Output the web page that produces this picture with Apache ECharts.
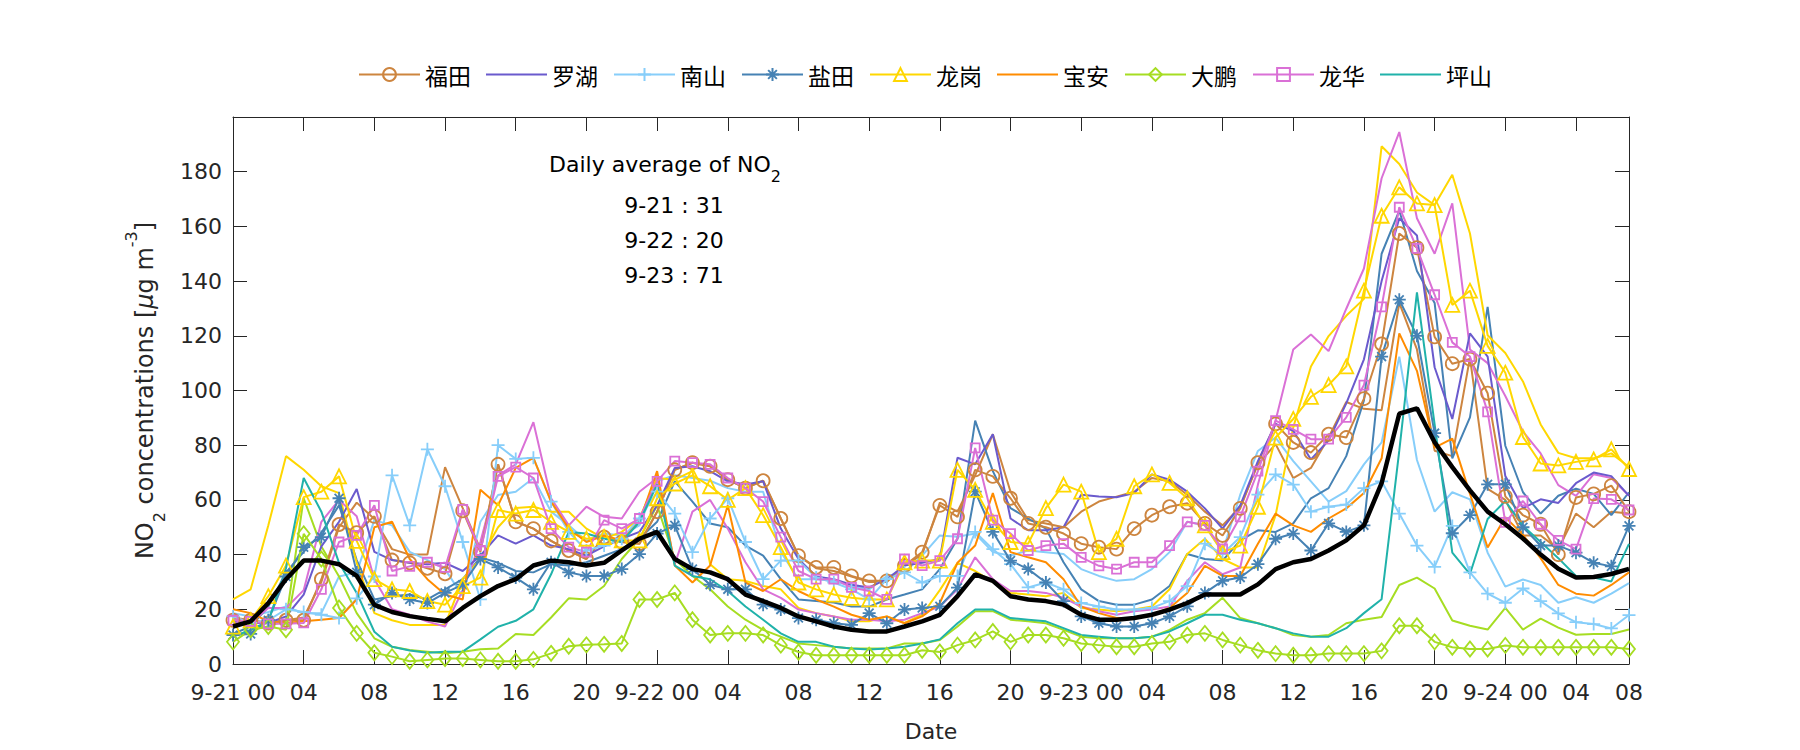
<!DOCTYPE html>
<html><head><meta charset="utf-8">
<script src="https://cdn.jsdelivr.net/npm/echarts@6/dist/echarts.min.js"></script>
<style>html,body{margin:0;padding:0;background:#fff}#c{width:1800px;height:750px}</style>
</head><body><div id="c"></div>
<script>
// ---- axis ticks ----
const tickHours = [0,4,8,12,16,20,24,28,32,36,40,44,48,52,56,60,64,68,72,76,79];
const tickLabels = ['9-21 00','04','08','12','16','20','9-22 00','04','08','12','16','20','9-23 00','04','08','12','16','20','9-24 00','04','08'];
const stationNames = ['福田','罗湖','南山','盐田','龙岗','宝安','大鹏','龙华','坪山'];
const avgDays = ['9-21','9-22','9-23'];
const avgValues = [31,20,71];

// ---- hourly NO2 (9-21 00 .. 9-24 07) ----
const futian = [16,16,15,16,16,31,51,48,54,38,37,35,33,56,41,73,52,
 49.5,45,41.5,38.4,46.4,44.6,44,55.7,71,73.6,72.3,67.4,64.3,67,53.2,39.6,
 35.3,35.3,32.2,30.4,30.4,36,40.9,58,53.8,71,68.6,60.6,51.4,50,47.7,44,
 42.7,42,49.5,54.4,57.5,58.8,51.4,47,56.9,73.6,87.8,81,77.3,84,82.8,97,
 117,157.4,152.2,119.6,109.8,111.5,99,61.3,54.4,51.1,40,60.9,62.2,65.2,55.7];
const futian2 = [17,16,15,16,17,30,50,59,53,42,40,40,72,57,42,73,52,
 49.5,45,41.5,38.4,46.4,44.6,44,55.7,71,73.6,72.3,67.4,64.3,67,53.2,39.6,
 35,34,32,30,30,36,40,59,55.7,69,84,63,52.6,51.4,50,55.7,
 59.4,61.2,63,68,66.8,61.9,55.7,50.7,57.5,73,80.4,68,71.7,82.8,95.8,93.3,
 92.8,132,115,78,76,112,64,60,47,47,42,55,50,55.7,55];
const luohu = [15.6,15,15,17.4,25.4,43,52,64,41,38,37,36.5,37,34,39.6,47,44,
 47,43.3,42,39.6,43,45.8,48.3,58,71.7,72.3,70.5,66.8,65.6,66.8,49.5,38.4,
 32,31,29,28,31,36,37,38.4,75.4,73,84,53.2,48.9,48.9,50,61.9,
 61.2,61,62.5,69.3,67.4,63,56.9,49.5,58,74.2,87.8,85.3,74.8,81.7,95.3,111.4,
 140,163,156.7,108.5,89.6,120.9,112.4,68.7,57,60.2,58.9,66.1,70,68.7,61.5];
const nanshan = [17.4,15,16,20,19,18,16.8,24,32,69,50.7,78.5,65,44.6,23.6,80,75,
 75.4,59.4,48.3,41.5,43.3,45.8,53.2,63,55,40.9,53.2,60.6,44.6,31,37.8,37.8,
 31.6,29.8,27.3,23.6,31,33.5,29.8,32.2,32.2,48.3,42,36.5,28,29.8,27.3,22.3,
 21,19.9,19.9,20.5,23,28.5,44,40.2,46.4,61.9,69.3,65.6,55.7,57.5,58.3,64.3,
 66.8,55,43.3,35.5,50.5,33.5,25.7,22.4,27.6,23,18.5,15.3,14.6,13,17.9];
const nanshan2 = [18.6,17.4,19,21,18.6,18.6,32,33.5,52.6,50.7,41,38,34.7,24.8,52,61.8,63,
 68,55.7,50.7,45,47.7,47,50.7,66.8,69,68,67,64.3,63,63,41,31,
 31,30.4,28.5,27.3,32.2,33.5,39.6,47,46.5,47.7,40.9,39.6,41.5,40.9,40.2,34.7,
 32.2,30.4,31,34.7,40.9,52,50.7,40.9,61.9,77.9,82.8,74.2,66.8,59.4,63.2,73,
 81,112.4,74.6,55.7,62.8,60.2,40.7,28.3,30.9,28.9,22.4,24.4,22.4,25.7,29.6];
const yantian = [10.6,11,16,32,42.7,46.4,60.6,33.5,21.7,26,23.6,22.3,26,29,38.4,35.3,31.6,
 27.3,37.2,33.5,32.2,32.2,34.7,40.2,47.7,50.7,34.7,29,27.3,27.3,21.7,19.9,16.8,
 16.2,14.9,14.3,18.6,14.9,19.9,20.5,21.1,27.9,63,48.3,37.8,34.7,29.8,23,17.4,
 14.9,13.7,13.7,14.9,17.4,21.1,26,30.4,31.6,36.5,45.8,47.7,41.5,51.4,48.3,50.7,
 112.4,133.2,120,84.4,47.8,54.4,65.7,65.7,50,43.3,43.3,40.7,37,35.7,50.5];
const yantian2 = [11,13.7,21,33.5,41,48,58,38,23.6,24.8,25.4,23.6,27.3,31,39,37,34,
 33.5,36.5,36,37.2,39.6,42,45.8,52,66.8,59.4,51.4,50,43.3,39.6,31,23.6,
 23,22.5,21,21,23.6,25.4,27.3,34.7,45.8,89,70.5,57,53.2,49.5,37.2,27.3,
 23,21.7,21.7,23.6,28.5,40.2,38.4,37.8,45.2,48.9,48.3,51.4,60.6,64.3,76,96.4,
 150,165.8,143.7,132,75.2,90.2,130.6,79.8,62.8,55,61.5,64.1,62.2,54.4,62.8];
const longgang = [13.7,16,24.8,36,61,63,68.6,45,31,27.3,26.7,23,21.7,28.5,31.6,56.3,55,
 56.3,52,48.3,45.8,46.4,45.2,45.2,60.6,66,69,65,60,64.3,54.4,42.7,29.8,
 27.3,25.4,24.2,23.6,23.6,37.2,37.8,37.8,71,63.7,52,44.6,44,57,65.6,63,
 40.9,45.8,65,69.3,66.2,60.6,50.7,40.9,43.3,57.5,82.8,89.6,97.7,102,108.8,136.5,
 163.9,174.3,168.4,167.8,131.3,136.5,116.3,106.5,83,73.3,72.6,73.9,74.8,78.5,71.3];
const longgang2 = [23.6,27.3,50.7,76,71,65,62.5,37,18.6,16,14.3,14.3,14.3,31,38.4,50,57,
 57.5,55.7,55.7,49.5,45.8,48.3,53.2,68,67.4,70.5,36.5,31,30.4,28.5,27.3,20.5,
 18.6,17.4,15.6,15.6,17.4,15,18,27,37,34,30,26,25.4,24.8,26,20.5,
 19.9,19.3,19.9,21,27.3,40.2,45.8,38.4,35.3,35.3,54.4,86.5,108.8,119.9,127.3,133.5,
 189.3,182.8,172.4,167.8,178.9,157.4,120.2,113.7,103.3,87.6,77.2,75.2,75.2,77,72];
const baoan = [20,18.6,15.6,15,15.6,16.2,16.8,23.6,50,52,38.4,31,25.4,23.6,63.7,58,71.7,
 75.4,59.4,49.5,44.6,47,45.2,52,70.5,36,29.8,36,58,29.8,26.7,31,26.7,
 23.6,21,18,16.2,17.4,14.9,17.4,22.3,37,43.3,62.5,40.9,39,37.2,31,21,
 18.6,16.8,16.8,18,20.5,26,35.9,32.2,32.2,44,55,50.7,48.3,53.2,56.9,62.5,
 75.2,120.9,107.2,79.1,82.4,62.2,42.6,53.7,47.2,38.7,28.9,25.7,25,28.9,33.5];
const dapeng = [8.1,12.5,13.7,12.5,47.6,38.4,20.5,11.2,4.1,2.7,1,1.5,2,2,1.5,1,1,
 1.7,3.9,6.5,7,7.2,7.5,23.6,23.6,26,16.2,10.6,11.2,11.2,10.6,6.9,4.4,
 3.2,3.2,3.2,3.2,3.2,3.2,5,4.4,6.9,8.8,11.9,8.1,10.6,10.6,9.4,7.5,
 6.9,6.3,6.3,7.5,8.1,10.6,11.2,8.8,6.9,5,3.8,3.2,3.2,3.8,3.8,3.8,
 4.8,14,14,8.1,6.1,5.5,5.5,6.8,6.1,6.1,6.1,6.1,6.1,6.1,5.5];
const dapeng2 = [10,12.5,13.7,16,60.6,43,32,18.6,9.4,6.3,5.1,4.5,3.9,4.5,5.4,5.7,11,
 10.6,17,24,23.6,28.5,38.4,45.8,58,38.4,32.2,27.3,21,16.2,12.5,10,7.5,
 6.9,6.3,5.7,5.7,5.7,7.5,7.5,8.8,13.7,19.3,19.3,16.2,15.6,14.9,12.5,10,
 9.4,9.4,9.4,10,12.5,16.2,18.6,24.2,16.8,14.9,13.1,10.6,10,10.6,14.9,16.2,
 17.2,28.9,31.6,27.6,15.9,14,12.6,20.5,12.6,16.6,13.3,10.7,11,11,12.6];
const longhua = [16,15.6,14.7,14.7,15,27.3,44.6,47,58,34,35.7,37.2,35.3,56.5,41.5,68.6,72,
 68,49.5,42.7,40.9,52.6,49.5,53.2,66.8,74.2,73.6,73,68,64.3,59.4,46.4,34,
 31,31,28,26.7,23.6,38.4,36,37.8,45.8,79,52.6,47.7,41.5,43.3,44,39,
 35.9,34.7,37.2,37.2,43.3,52,50.7,42.1,53.8,70.5,89,85.8,82.2,82.2,90.2,102,
 130.6,167,152,135,117.6,112.4,92.2,51.8,59.6,51.1,45.2,42,60.5,60.2,56.3];
const longhua2 = [15,15,20.5,20.5,27,52,60,54,31,20,18,15.5,13.7,27,44.6,69,73,
 88.4,60.6,50.7,57.5,53.8,53.2,63,68,36.5,55.7,60,49.5,37.2,27.3,24.2,19.9,
 18.6,17.4,16.2,16.2,15.6,16.2,18.6,21,27.3,39,31,26.7,26.7,26,24.2,21,
 19.3,18,19.3,19.9,21,30.4,37.2,32.8,35.3,65.6,89,115,120.5,114.4,129.9,144.6,
 177.6,194.5,163,150,168.4,115,110,98,85,77,65.4,61.5,69.4,68,61.5];
const pingshan = [10,12.5,15.6,35,68,55.7,37,26,11.8,6.3,4.9,4.1,4.5,4.5,9,13.6,15.8,
 20,32.8,48.3,47.7,45.8,44.6,52,65.6,36,32.2,31,26.7,21,16.2,11.2,8.1,
 8.1,6.3,5.7,5.3,5.7,6.3,7.5,9,14.9,19.9,19.9,16.8,16.2,15.6,13.1,10.6,
 10,9.4,9.4,10,11.9,14.9,18,18,16.2,14.9,13.1,11.2,10,10,13.1,18.6,
 23.7,78,135.9,87.6,40.7,32.9,53,59.6,50.5,44.6,38.7,32.2,31.6,30.2,43.9];
const average = [13.7,15.6,22.3,31,37.8,37.8,36.5,32.2,21.6,19,17.5,16.5,15.6,20.5,24.8,28.5,31,
 36,37.8,37.2,36,37,41.5,45.8,48.3,38.4,34.7,33.5,31,25.4,23,20.5,17.4,
 15.6,13.7,12.5,11.9,11.9,13.7,15.6,18,24.8,32.8,30.4,24.8,23.6,23,21.7,18,
 16.2,16.2,16.8,18,19.9,22.3,25.4,25.4,25.4,29.1,34.7,37.2,38.4,41.5,45.2,50.7,
 66.1,91.5,93.5,81.1,72,63.5,55.7,51.1,45.9,40,34.8,31.6,31.8,32.9,34.8];

const C = {futian:'#CD853F', luohu:'#6A5ACD', nanshan:'#87CEFA', yantian:'#4682B4', longgang:'#FFD700',
  baoan:'#FF8C00', dapeng:'#A6DD22', longhua:'#DA70D6', pingshan:'#20B2AA'};
const PLUS = 'path://M5,0L5,10M0,5L10,5';
const STAR = 'path://M5,0L5,10M0,5L10,5M1.6,1.6L8.4,8.4M8.4,1.6L1.6,8.4';
const LINE_ICON = 'path://M0,0L100,0L100,3.2L0,3.2Z';
const FONT = 'DejaVu Sans';

function pts(arr){ return arr.map((v,i)=>[i,v]); }
function ser(name, arr, color, symbol, size, extra){
  const s = {
    name, type:'line', data: pts(arr), xAxisIndex:0, yAxisIndex:0,
    symbol: symbol || 'none', symbolSize: size || 10, showSymbol: !!symbol,
    lineStyle:{color, width:2},
    itemStyle: symbol ? {color:'rgba(255,255,255,0)', borderColor:color, borderWidth:1.8} : {color},
    emphasis:{disabled:true}, silent:true, z:2
  };
  return Object.assign(s, extra||{});
}

const series = [
  ser('福田-2', futian2, C.futian),
  ser('南山-2', nanshan2, C.nanshan),
  ser('盐田-2', yantian2, C.yantian),
  ser('龙岗-2', longgang2, C.longgang),
  ser('大鹏-2', dapeng2, C.dapeng),
  ser('龙华-2', longhua2, C.longhua),
  ser('福田', futian, C.futian, 'circle', 13),
  ser('罗湖', luohu, C.luohu),
  ser('南山', nanshan, C.nanshan, PLUS, 13),
  ser('盐田', yantian, C.yantian, STAR, 13),
  ser('龙岗', longgang, C.longgang, 'triangle', 14),
  ser('宝安', baoan, C.baoan),
  ser('大鹏', dapeng, C.dapeng, 'diamond', [12,15]),
  ser('龙华', longhua, C.longhua, 'rect', 9),
  ser('坪山', pingshan, C.pingshan),
  ser('平均', average, '#000000', null, null, {lineStyle:{color:'#000', width:4.5}, z:5})
];
const plainLine = {'罗湖':1,'宝安':1,'坪山':1};
const legendData = stationNames.map(n => plainLine[n] ? {name:n, icon:LINE_ICON} : {name:n});

const axisColor = '#262626';
const lineAxis = {show:true, onZero:false, lineStyle:{color:axisColor, width:1}};
const chart = echarts.init(document.getElementById('c'), null, {renderer:'svg'});
chart.setOption({
  animation:false,
  backgroundColor:'#ffffff',
  textStyle:{fontFamily:FONT},
  grid:{left:233, right:171, top:117, bottom:86, containLabel:false},
  legend:{
    data: legendData, left:353, top:58, orient:'horizontal',
    itemWidth:61, itemHeight:16, itemGap:15,
    textStyle:{fontFamily:'Noto Sans CJK SC', fontSize:23, color:'#000'}
  },
  xAxis:[{
    type:'value', min:0, max:79, position:'bottom',
    axisLine:lineAxis,
    axisTick:{show:true, inside:true, length:14, customValues:tickHours, lineStyle:{color:axisColor}},
    axisLabel:{customValues:tickHours, formatter:(v)=>{const k=tickHours.indexOf(v); return k>=0?tickLabels[k]:'';},
      color:axisColor, fontSize:22, fontFamily:FONT, margin:17},
    splitLine:{show:false},
    name:'Date', nameLocation:'middle', nameGap:56,
    nameTextStyle:{fontSize:22, color:axisColor, fontFamily:FONT}
  },{
    type:'value', min:0, max:79, position:'top',
    axisLine:lineAxis,
    axisTick:{show:true, inside:true, length:14, customValues:tickHours, lineStyle:{color:axisColor}},
    axisLabel:{show:false}, splitLine:{show:false}
  }],
  yAxis:[{
    type:'value', min:0, max:200, interval:20, position:'left',
    axisLine:lineAxis,
    axisTick:{show:true, inside:true, length:14, lineStyle:{color:axisColor}},
    axisLabel:{formatter:(v)=> v===200?'':String(v), color:axisColor, fontSize:22, fontFamily:FONT, margin:11},
    splitLine:{show:false},
    name:'NO{sub|2} concentrations [{it|μ}g m{sup|-3}]', nameLocation:'middle', nameGap:66, nameRotate:90,
    nameTextStyle:{fontSize:24, color:axisColor, fontFamily:FONT, lineHeight:44,
      rich:{
        sub:{fontSize:16, lineHeight:14, verticalAlign:'bottom', color:axisColor, fontFamily:FONT},
        sup:{fontSize:16, lineHeight:32, verticalAlign:'top', color:axisColor, fontFamily:FONT},
        it:{fontSize:24, fontStyle:'italic', color:axisColor, fontFamily:FONT, lineHeight:44}
      }}
  },{
    type:'value', min:0, max:200, interval:20, position:'right',
    axisLine:lineAxis,
    axisTick:{show:true, inside:true, length:14, lineStyle:{color:axisColor}},
    axisLabel:{show:false}, splitLine:{show:false}
  }],
  graphic:[
    {type:'text', x:665, y:164, style:{text:'Daily average of NO{sub|2}', fill:'#000', font:'22px "DejaVu Sans"', align:'center', verticalAlign:'middle',
      lineHeight:40, rich:{sub:{fontSize:16, lineHeight:14, verticalAlign:'bottom', fill:'#000', fontFamily:FONT}}}},
    {type:'text', x:674, y:205, style:{text: avgDays[0]+' : '+avgValues[0], fill:'#000', font:'22px "DejaVu Sans"', align:'center', verticalAlign:'middle'}},
    {type:'text', x:674, y:240, style:{text: avgDays[1]+' : '+avgValues[1], fill:'#000', font:'22px "DejaVu Sans"', align:'center', verticalAlign:'middle'}},
    {type:'text', x:674, y:275, style:{text: avgDays[2]+' : '+avgValues[2], fill:'#000', font:'22px "DejaVu Sans"', align:'center', verticalAlign:'middle'}}
  ],
  series
});
</script></body></html>
